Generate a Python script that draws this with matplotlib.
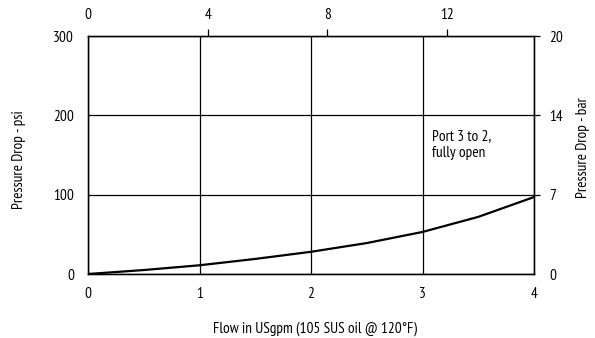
import matplotlib
matplotlib.use('Agg')
import matplotlib.pyplot as plt

# flow (USgpm) vs pressure drop (psi), port 3 to 2 fully open
flow = [0, 0.5, 1, 1.5, 2, 2.5, 3, 3.5, 4]
psi = [0, 5, 11, 19, 28, 39, 53, 72, 97]

psi_ticks = [0, 100, 200, 300]
bar_labels = ['0', '7', '14', '20']
flow_ticks = [0, 1, 2, 3, 4]
lpm_ticks = [0, 4, 8, 12]
lpm_max = 14.9

plt.rcParams['font.family'] = ['PT Sans Narrow', 'DejaVu Sans']
plt.rcParams['font.size'] = 11

W, H = 595, 338
fig = plt.figure(figsize=(W / 100, H / 100), dpi=100)
ax = fig.add_axes([88 / W, 1 - 274 / H, 446 / W, 238 / H])

ax.plot(flow, psi, color='black', lw=1.6, solid_capstyle='round', zorder=3)
ax.set_xlim(0, 4)
ax.set_ylim(0, 300)
ax.set_xticks(flow_ticks)
ax.set_yticks(psi_ticks)
ax.grid(True, color='black', lw=0.9)
ax.tick_params(axis='both', length=0)
ax.tick_params(axis='x', pad=9)
ax.tick_params(axis='y', pad=10)
for s in ax.spines.values():
    s.set_linewidth(1.0)

# right axis: same psi grid labelled in bar
axr = ax.twinx()
axr.set_ylim(0, 300)
axr.set_yticks(psi_ticks)
axr.set_yticklabels(bar_labels)
axr.tick_params(axis='y', length=4, width=0.9, pad=7)
axr.get_yticklines()[1].set_visible(False)

# top axis: flow in lpm
axt = ax.twiny()
axt.set_xlim(0, lpm_max)
axt.set_xticks(lpm_ticks)
axt.tick_params(axis='x', length=5, width=0.9, pad=5)
axt.get_xticklines()[1].set_visible(False)

fig.text(19 / W, 1 - 160 / H, 'Pressure Drop - psi', rotation=90, ha='center', va='center')
fig.text(583 / W, 1 - 148 / H, 'Pressure Drop - bar', rotation=90, ha='center', va='center')
fig.text(315 / W, 1 - 329 / H, 'Flow in USgpm (105 SUS oil @ 120°F)', ha='center', va='center')

ax.text(3.085, 182, 'Port 3 to 2,\nfully open', ha='left', va='top', linespacing=1.2)

fig.savefig('out.png', dpi=100)
